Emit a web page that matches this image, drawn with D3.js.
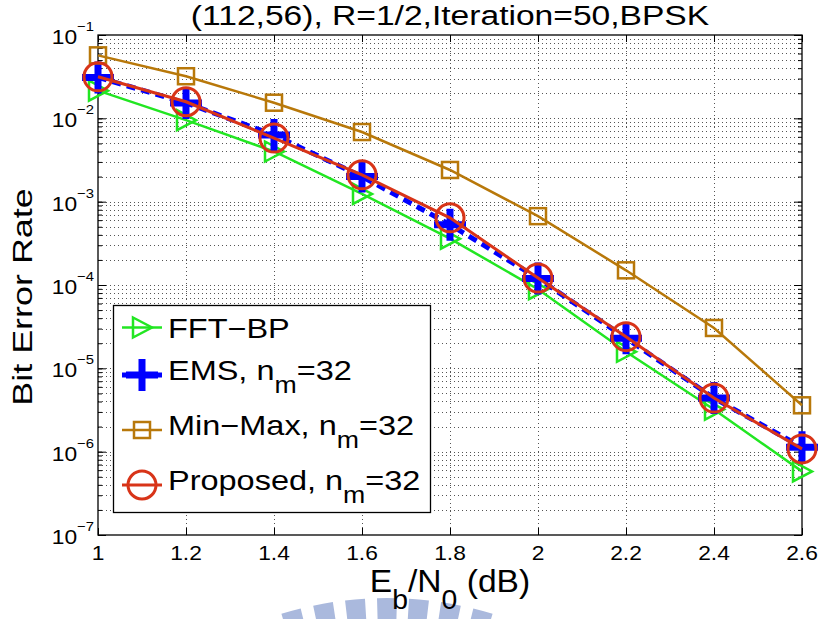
<!DOCTYPE html>
<html>
<head>
<meta charset="utf-8">
<script src="https://cdn.jsdelivr.net/npm/d3@7"></script>
<style>
  body { margin: 0; background: #fff; }
  svg { display: block; font-family: "Liberation Sans", Arial, sans-serif; }
</style>
</head>
<body>
<div id="chart"></div>
<script>
// Eb/N0 (dB) points
let snr = [1.0, 1.2, 1.4, 1.6, 1.8, 2.0, 2.2, 2.4, 2.6];

// bit error rate per decoder
let fftBP    = [2.15e-2, 9.5e-3, 4.0e-3, 1.24e-3, 3.6e-4, 8.9e-5, 1.58e-5, 3.2e-6, 5.8e-7];
let ems      = [3.1e-2, 1.53e-2, 6.3e-3, 2.0e-3, 5.3e-4, 1.2e-4, 2.3e-5, 4.4e-6, 1.13e-6];
let minMax   = [5.7e-2, 3.2e-2, 1.54e-2, 6.85e-3, 2.4e-3, 6.7e-4, 1.5e-4, 3.05e-5, 3.6e-6];
let proposed = [3.15e-2, 1.58e-2, 5.8e-3, 2.1e-3, 6.4e-4, 1.21e-4, 2.4e-5, 4.4e-6, 1.08e-6];

// axis ticks
let xTicks = [1, 1.2, 1.4, 1.6, 1.8, 2, 2.2, 2.4, 2.6];
let xTickLabels = ["1", "1.2", "1.4", "1.6", "1.8", "2", "2.2", "2.4", "2.6"];
let yExponents = [-1, -2, -3, -4, -5, -6, -7];

let W = 819, H = 619;
let plot = { left: 98, right: 802, top: 35, bottom: 535 };

let svg = d3.select("#chart").append("svg")
    .attr("width", W)
    .attr("height", H);

let x = d3.scaleLinear().domain([1, 2.6]).range([plot.left, plot.right]);
let y = d3.scaleLog().domain([1e-7, 1e-1]).range([plot.bottom, plot.top]);

// text that is a bit wider than plain Arial, like the original figure
function wideText(parent, px, py, anchor, size, sx, rot) {
    let t = "translate(" + px + "," + py + ")" + (rot ? " rotate(" + rot + ")" : "") + " scale(" + sx + ",1)";
    return parent.append("g").attr("transform", t)
        .append("text")
        .attr("text-anchor", anchor)
        .attr("font-size", size)
        .attr("fill", "#000");
}

// watermark at the bottom
let wm = svg.append("g").attr("transform", "translate(387,958)");
let wmArc = d3.arc().innerRadius(300).outerRadius(360);
[-96, -64, -32, 0, 32, 64, 96].forEach(function (dx) {
    let a = Math.asin(dx / 360), hw = 10 / 360;
    wm.append("path")
        .attr("d", wmArc({ startAngle: a - hw, endAngle: a + hw }))
        .attr("fill", "#aab9dd");
});

// plot background
svg.append("rect")
    .attr("x", plot.left).attr("y", plot.top)
    .attr("width", plot.right - plot.left).attr("height", plot.bottom - plot.top)
    .attr("fill", "#fff");

// grid
let majorY = yExponents.map(function (e) { return Math.pow(10, e); });
let allY = y.ticks();
let grid = svg.append("g")
    .attr("stroke", "#555")
    .attr("stroke-width", 1)
    .attr("stroke-dasharray", "1,3");
grid.selectAll("line.h")
    .data(allY.filter(function (v) { return v > 1.01e-7 && v < 0.99e-1; }))
    .enter().append("line")
    .attr("x1", plot.left).attr("x2", plot.right)
    .attr("y1", function (d) { return Math.round(y(d)) + 0.5; })
    .attr("y2", function (d) { return Math.round(y(d)) + 0.5; });
grid.selectAll("line.v")
    .data(xTicks.slice(1, -1))
    .enter().append("line")
    .attr("y1", plot.top).attr("y2", plot.bottom)
    .attr("x1", function (d) { return Math.round(x(d)) + 0.5; })
    .attr("x2", function (d) { return Math.round(x(d)) + 0.5; });

// ticks (inward)
function tickAxis(axis, tx, ty) {
    let g = svg.append("g").attr("transform", "translate(" + tx + "," + ty + ")").call(axis);
    g.select(".domain").remove();
    g.selectAll("line").attr("stroke", "#000");
    return g;
}
tickAxis(d3.axisBottom(x).tickValues(xTicks).tickSize(-7).tickFormat(""), 0, plot.bottom);
tickAxis(d3.axisTop(x).tickValues(xTicks).tickSize(-7).tickFormat(""), 0, plot.top);
tickAxis(d3.axisLeft(y).tickValues(majorY).tickSize(-8).tickFormat(""), plot.left, 0);
tickAxis(d3.axisRight(y).tickValues(majorY).tickSize(-8).tickFormat(""), plot.right, 0);
tickAxis(d3.axisLeft(y).tickValues(allY).tickSize(-4).tickFormat(""), plot.left, 0);
tickAxis(d3.axisRight(y).tickValues(allY).tickSize(-4).tickFormat(""), plot.right, 0);

// box
svg.append("rect")
    .attr("x", plot.left).attr("y", plot.top)
    .attr("width", plot.right - plot.left).attr("height", plot.bottom - plot.top)
    .attr("fill", "none").attr("stroke", "#000").attr("stroke-width", 1.3);

// tick labels
xTicks.forEach(function (v, i) {
    wideText(svg, x(v), 560, "middle", 20, 1.14).text(xTickLabels[i]);
});
yExponents.forEach(function (e) {
    let t = wideText(svg, 94, y(Math.pow(10, e)) + 9, "end", 20, 1.14);
    t.append("tspan").text("10");
    t.append("tspan").attr("font-size", 13).attr("dy", -13).text("\u2212" + Math.abs(e));
});

// title and axis labels
wideText(svg, 450, 25, "middle", 28, 1.2).text("(112,56), R=1/2,Iteration=50,BPSK");
let xl = wideText(svg, 450, 592, "middle", 32, 1.05);
xl.append("tspan").text("E");
xl.append("tspan").attr("font-size", 27).attr("dy", 17).text("b");
xl.append("tspan").attr("dy", -17).text("/N");
xl.append("tspan").attr("font-size", 27).attr("dy", 17).text("0");
xl.append("tspan").attr("dy", -17).text(" (dB)");
wideText(svg, 32, 297, "middle", 27, 1.33, -90).text("Bit Error Rate");

// series
let series = [
    { name: "FFT\u2212BP", sub: null, values: fftBP, color: "#22e622", width: 2.5, dash: null, marker: "tri" },
    { name: "EMS, n", sub: "m", tail: "=32", values: ems, color: "#0000ff", width: 5, dash: "9,6", marker: "plus" },
    { name: "Min\u2212Max, n", sub: "m", tail: "=32", values: minMax, color: "#b8780a", width: 2.5, dash: null, marker: "sq" },
    { name: "Proposed, n", sub: "m", tail: "=32", values: proposed, color: "#d83418", width: 3, dash: null, marker: "circ" }
];

function drawMarker(g, kind, color, cx, cy) {
    if (kind === "tri") {
        g.append("path")
            .attr("d", "M" + (cx - 9) + "," + (cy - 10) + "L" + (cx + 10) + "," + cy + "L" + (cx - 9) + "," + (cy + 10) + "Z")
            .attr("fill", "none").attr("stroke", color).attr("stroke-width", 2.5);
    } else if (kind === "plus") {
        g.append("path")
            .attr("d", "M" + (cx - 16) + "," + cy + "H" + (cx + 16) + "M" + cx + "," + (cy - 16) + "V" + (cy + 16))
            .attr("fill", "none").attr("stroke", color).attr("stroke-width", 7);
    } else if (kind === "sq") {
        g.append("rect")
            .attr("x", cx - 8).attr("y", cy - 8).attr("width", 16).attr("height", 16)
            .attr("fill", "none").attr("stroke", color).attr("stroke-width", 2.5);
    } else {
        g.append("circle")
            .attr("cx", cx).attr("cy", cy).attr("r", 14)
            .attr("fill", "none").attr("stroke", color).attr("stroke-width", 3);
    }
}

let line = d3.line()
    .x(function (d) { return x(d[0]); })
    .y(function (d) { return y(d[1]); });

series.forEach(function (s) {
    let g = svg.append("g");
    let pts = snr.map(function (v, i) { return [v, s.values[i]]; });
    g.append("path")
        .datum(pts)
        .attr("fill", "none")
        .attr("stroke", s.color)
        .attr("stroke-width", s.width)
        .attr("stroke-dasharray", s.dash)
        .attr("d", line);
    pts.forEach(function (p) { drawMarker(g, s.marker, s.color, x(p[0]), y(p[1])); });
});

// legend
let lg = svg.append("g");
lg.append("rect")
    .attr("x", 113.5).attr("y", 305.5).attr("width", 317).attr("height", 207)
    .attr("fill", "#fff").attr("stroke", "#000").attr("stroke-width", 1.3);
let rowBase = [338, 380, 435, 490];
series.forEach(function (s, i) {
    let my = s.sub ? rowBase[i] - 5 : rowBase[i] - 10.5;
    lg.append("line")
        .attr("x1", 122).attr("x2", 162).attr("y1", my).attr("y2", my)
        .attr("stroke", s.color).attr("stroke-width", s.marker === "plus" ? 5 : s.width);
    drawMarker(lg, s.marker, s.color, 142, my);
    let t = wideText(lg, 168, rowBase[i], "start", 28, 1.16);
    t.append("tspan").text(s.name);
    if (s.sub) {
        t.append("tspan").attr("font-size", 23).attr("dy", 13).text(s.sub);
        t.append("tspan").attr("dy", -13).text(s.tail);
    }
});
</script>
</body>
</html>
